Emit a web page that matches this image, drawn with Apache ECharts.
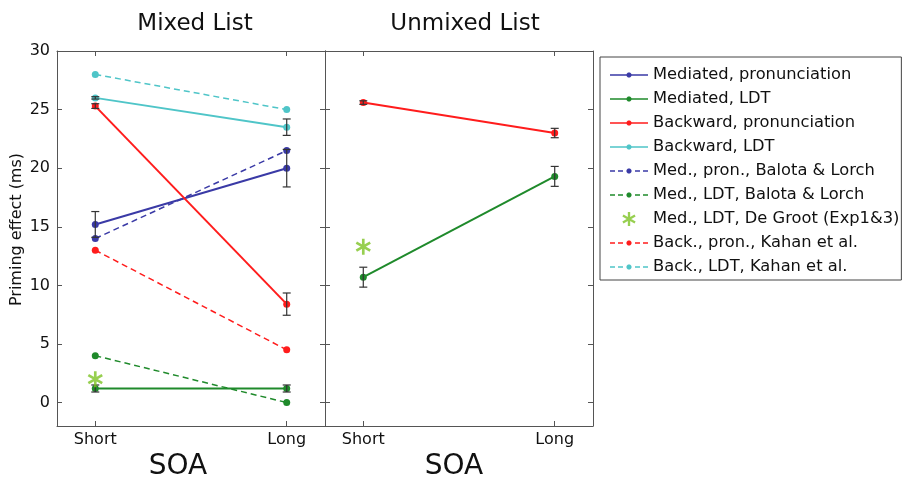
<!DOCTYPE html>
<html><head><meta charset="utf-8">
<script src="https://cdn.jsdelivr.net/npm/echarts@6/dist/echarts.min.js"></script>
<style>html,body{margin:0;padding:0;background:#fff}#c{width:907px;height:486px}</style>
</head><body><div id="c"></div>
<script>
// ---------------- data ----------------
const soaPos = [1, 2];
const soaLabels = ['Short', 'Long'];
const yTicks = [0, 5, 10, 15, 20, 25, 30];
const panelTitles = ['Mixed List', 'Unmixed List'];
const axisTitle = 'SOA';
const yTitle = 'Priming effect (ms)';
const legendNames = [
  'Mediated, pronunciation',
  'Mediated, LDT',
  'Backward, pronunciation',
  'Backward, LDT',
  'Med., pron., Balota & Lorch',
  'Med., LDT, Balota & Lorch',
  'Med., LDT, De Groot (Exp1&3)',
  'Back., pron., Kahan et al.',
  'Back., LDT, Kahan et al.'
];

// Mixed list (left panel), values at [Short, Long]
const mixMedPron = [15.2, 20.0];
const mixMedPronErr = [1.1, 1.6];
const mixMedLDT = [1.2, 1.2];
const mixMedLDTErr = [0.3, 0.3];
const mixBackPron = [25.3, 8.4];
const mixBackPronErr = [0.2, 0.95];
const mixBackLDT = [26.0, 23.5];
const mixBackLDTErr = [0.1, 0.7];
const balotaMedPron = [14.0, 21.5];
const balotaMedLDT = [4.0, 0.0];
const kahanBackPron = [13.0, 4.5];
const kahanBackLDT = [28.0, 25.0];
const deGrootMixed = [2.0];      // Short only

// Unmixed list (right panel)
const unmixBackPron = [25.6, 23.0];
const unmixBackPronErr = [0.15, 0.4];
const unmixMedLDT = [10.7, 19.3];
const unmixMedLDTErr = [0.85, 0.85];
const deGrootUnmixed = [13.3];   // Short only

// ---------------- styles ----------------
const FONT = 'DejaVu Sans';
const C = {
  blue: '#3a3aa6', green: '#1f8a2b', red: '#ff1c1c', cyan: '#4fc5c8', lime: '#7dc324'
};
const colorOf = [C.blue, C.green, C.red, C.cyan, C.blue, C.green, C.lime, C.red, C.cyan];

function poly(pts) {
  return 'M' + pts.map(p => p[0].toFixed(2) + ',' + p[1].toFixed(2)).join(' L') + ' Z ';
}
function circlePts(cx, cy, r) {
  const a = [];
  for (let i = 0; i < 16; i++) {
    const t = i / 16 * Math.PI * 2;
    a.push([cx + r * Math.cos(t), cy + r * Math.sin(t)]);
  }
  return a;
}
function asterisk() {
  let d = '';
  [0, 60, 120].forEach(a => {
    const r = a * Math.PI / 180, c = Math.cos(r), s = Math.sin(r);
    const w = 1.0, len = 6;
    d += poly([[-w, -len], [w, -len], [w, len], [-w, len]].map(([x, y]) => [x * c - y * s, x * s + y * c]));
  });
  return 'path://' + d;
}
function seg(x0, x1, h) { return poly([[x0, -h], [x1, -h], [x1, h], [x0, h]]); }
const solidIcon = 'path://' + seg(0, 16.5, 0.8) + seg(21.5, 38, 0.8) + poly(circlePts(19, 0, 2.6));
const dashIcon = 'path://' + seg(0, 5, 0.7) + seg(8, 13, 0.7) + seg(25, 30, 0.7) + seg(33, 38, 0.7) + poly(circlePts(19, 0, 2.6));
const starSym = asterisk();
const legendIcons = [solidIcon, solidIcon, solidIcon, solidIcon, dashIcon, dashIcon, starSym, dashIcon, dashIcon];

const AX = '#555';
const gridL = 57, gridW = 268, gridT = 51, gridH = 380;

function xAxes(gi) {
  const base = {
    gridIndex: gi, type: 'value', min: 0.8, max: 2.2,
    axisLine: { show: true, onZero: false, lineStyle: { color: AX, width: 1 } },
    axisTick: { show: true, inside: true, length: 5, customValues: soaPos, lineStyle: { color: AX } },
    splitLine: { show: false }
  };
  return [
    Object.assign({}, base, {
      position: 'bottom',
      axisLabel: { customValues: soaPos, formatter: v => soaLabels[soaPos.indexOf(v)] || '',
        fontFamily: FONT, fontSize: 16, color: '#111', margin: 6 },
      name: axisTitle, nameLocation: 'middle', nameGap: 27,
      nameTextStyle: { fontFamily: FONT, fontSize: 28, color: '#111',
        padding: gi === 0 ? [0, 26, 0, 0] : [0, 10, 0, 0] }
    }),
    Object.assign({}, base, { position: 'top', axisLabel: { show: false } })
  ];
}
function yAxes(gi) {
  const base = {
    gridIndex: gi, type: 'value', min: -2, max: 30,
    axisLine: { show: true, onZero: false, lineStyle: { color: AX, width: 1 } },
    axisTick: { show: true, inside: true, length: 5, customValues: yTicks, lineStyle: { color: AX } },
    splitLine: { show: false }
  };
  const left = Object.assign({}, base, { position: 'left' });
  if (gi === 0) {
    left.axisLabel = { customValues: yTicks, fontFamily: FONT, fontSize: 16, color: '#111', margin: 7 };
    left.name = yTitle; left.nameLocation = 'middle'; left.nameGap = 32;
    left.nameTextStyle = { fontFamily: FONT, fontSize: 16, color: '#111', padding: [0, 0, 0, 18] };
  } else {
    left.axisLabel = { show: false };
  }
  return [left, Object.assign({}, base, { position: 'right', axisLabel: { show: false } })];
}

const pairs = vals => vals.map((v, i) => [soaPos[i], v]);
const errData = (vals, errs) => vals.map((v, i) => [soaPos[i], v, errs[i]]);

function lineSeries(name, vals, panel, dashed) {
  const ci = legendNames.indexOf(name);
  return {
    type: 'line', name, data: pairs(vals),
    xAxisIndex: panel * 2, yAxisIndex: panel * 2,
    symbol: 'circle', symbolSize: 7, showSymbol: true,
    lineStyle: { color: colorOf[ci], width: dashed ? 1.5 : 2, type: dashed ? [6, 4] : 'solid' },
    itemStyle: { color: colorOf[ci] },
    z: dashed ? 2 : 3, silent: true
  };
}
function errSeries(vals, errs, panel) {
  return {
    type: 'custom', data: errData(vals, errs),
    xAxisIndex: panel * 2, yAxisIndex: panel * 2,
    encode: { x: 0, y: 1 }, z: 4, silent: true,
    renderItem: function (params, api) {
      const x = api.value(0), y = api.value(1), e = api.value(2);
      const p1 = api.coord([x, y + e]), p2 = api.coord([x, y - e]);
      const hw = 4, st = { stroke: '#333', lineWidth: 1.2 };
      return { type: 'group', children: [
        { type: 'line', shape: { x1: p1[0], y1: p1[1], x2: p2[0], y2: p2[1] }, style: st },
        { type: 'line', shape: { x1: p1[0] - hw, y1: p1[1], x2: p1[0] + hw, y2: p1[1] }, style: st },
        { type: 'line', shape: { x1: p2[0] - hw, y1: p2[1], x2: p2[0] + hw, y2: p2[1] }, style: st }
      ] };
    }
  };
}
function starSeries(vals, panel) {
  return {
    type: 'scatter', name: legendNames[6], data: pairs(vals),
    xAxisIndex: panel * 2, yAxisIndex: panel * 2,
    symbol: starSym, symbolSize: 16, symbolKeepAspect: true,
    itemStyle: { color: C.lime }, z: 5, silent: true
  };
}

const series = [
  // left panel
  lineSeries(legendNames[4], balotaMedPron, 0, true),
  lineSeries(legendNames[5], balotaMedLDT, 0, true),
  lineSeries(legendNames[7], kahanBackPron, 0, true),
  lineSeries(legendNames[8], kahanBackLDT, 0, true),
  lineSeries(legendNames[0], mixMedPron, 0, false),
  lineSeries(legendNames[1], mixMedLDT, 0, false),
  lineSeries(legendNames[2], mixBackPron, 0, false),
  lineSeries(legendNames[3], mixBackLDT, 0, false),
  errSeries(mixMedPron, mixMedPronErr, 0),
  errSeries(mixMedLDT, mixMedLDTErr, 0),
  errSeries(mixBackPron, mixBackPronErr, 0),
  errSeries(mixBackLDT, mixBackLDTErr, 0),
  starSeries(deGrootMixed, 0),
  // right panel
  lineSeries(legendNames[1], unmixMedLDT, 1, false),
  lineSeries(legendNames[2], unmixBackPron, 1, false),
  errSeries(unmixMedLDT, unmixMedLDTErr, 1),
  errSeries(unmixBackPron, unmixBackPronErr, 1),
  starSeries(deGrootUnmixed, 1)
];

const chart = echarts.init(document.getElementById('c'), null, { renderer: 'canvas' });
chart.setOption({
  animation: false,
  backgroundColor: '#fff',
  title: [
    { text: panelTitles[0], left: 190, top: 8, textAlign: 'center',
      textStyle: { fontFamily: FONT, fontSize: 23, fontWeight: 'normal', color: '#111' } },
    { text: panelTitles[1], left: 460, top: 8, textAlign: 'center',
      textStyle: { fontFamily: FONT, fontSize: 23, fontWeight: 'normal', color: '#111' } }
  ],
  grid: [
    { left: gridL, top: gridT, width: gridW, height: gridH },
    { left: gridL + gridW, top: gridT, width: gridW, height: gridH }
  ],
  xAxis: [].concat(xAxes(0), xAxes(1)),
  yAxis: [].concat(yAxes(0), yAxes(1)),
  legend: {
    orient: 'vertical', left: 600, top: 57,
    itemWidth: 38, itemHeight: 14, itemGap: 4,
    padding: [8, 2, 3, 10],
    borderColor: '#444', borderWidth: 1,
    selectedMode: false,
    itemStyle: { borderWidth: 0 },
    textStyle: { fontFamily: FONT, fontSize: 16.3, color: '#111', lineHeight: 20 },
    data: legendNames.map((n, i) => ({ name: n, icon: legendIcons[i] }))
  },
  series
});
</script>
</body></html>
